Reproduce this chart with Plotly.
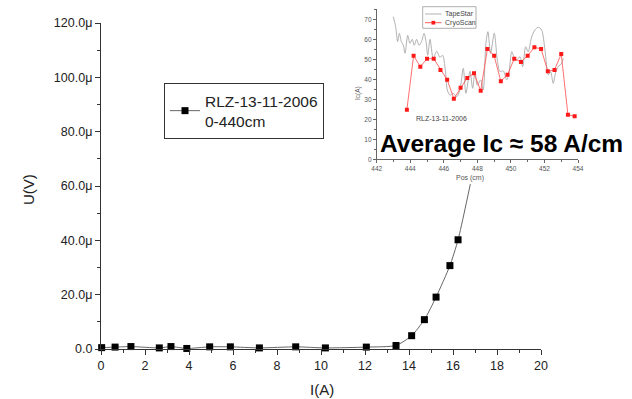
import plotly.graph_objects as go

# ---- Main V-I curve (current in A, voltage in microvolts) ----
current_a = [0.03, 0.64, 1.36, 2.65, 3.18, 3.9, 4.94, 5.88, 7.2, 8.85, 10.2, 12.06,
             13.41, 14.12, 14.7, 15.23, 15.86, 16.23, 17.0, 17.6]
voltage_uv = [0.5, 0.7, 0.9, 0.4, 0.9, 0.2, 0.8, 0.8, 0.4, 0.8, 0.4, 0.7,
              1.3, 4.9, 10.8, 19.1, 30.7, 40.2, 69.0, 95.0]
main_series_name = "RLZ-13-11-2006<br>0-440cm"

u_tick_vals = [0, 20, 40, 60, 80, 100, 120]
u_tick_text = ["0.0", "20.0\u03bc", "40.0\u03bc", "60.0\u03bc", "80.0\u03bc", "100.0\u03bc", "120.0\u03bc"]
i_tick_vals = [0, 2, 4, 6, 8, 10, 12, 14, 16, 18, 20]

# ---- Inset: critical current along the tape ----
tapestar_pos = [442.99, 443.13, 443.25, 443.35, 443.47, 443.59, 443.69, 443.85, 443.98,
                444.12, 444.24, 444.38, 444.52, 444.68, 444.82, 444.94, 445.04, 445.18,
                445.37, 445.58, 445.77, 445.93, 446.09, 446.21, 446.37, 446.56, 446.77,
                446.96, 447.16, 447.32, 447.56, 447.72, 447.86, 448.0, 448.2, 448.35,
                448.51, 448.63, 448.79, 449.01, 449.19, 449.35, 449.54, 449.75, 449.88,
                450.05, 450.18, 450.34, 450.54, 450.70, 450.88, 451.03, 451.24, 451.43,
                451.63, 451.83, 452.03, 452.23, 452.37, 452.52, 452.68, 452.82, 453.03,
                453.12]
tapestar_ic = [71.3, 66.3, 58.8, 63.0, 58.8, 57.0, 53.0, 62.0, 58.0,
               60.0, 57.0, 60.0, 57.0, 59.0, 63.0, 59.0, 52.0, 60.0,
               50.5, 54.0, 51.0, 52.0, 44.7, 34.7, 32.0, 33.0, 31.3,
               34.7, 45.5, 33.0, 44.0, 35.5, 44.0, 37.0, 39.7, 34.7,
               58.0, 63.8, 53.0, 63.0, 49.7, 43.8, 44.3, 39.7, 43.0,
               53.8, 51.3, 49.7, 51.3, 46.3, 56.3, 53.8, 61.3, 64.7,
               66.0, 64.7, 54.7, 42.2, 43.8, 38.0, 43.8, 46.3, 48.0,
               50.5]

cryoscan_pos = [443.8, 444.2, 444.6, 445.0, 445.4, 445.8, 446.2, 446.6, 447.0,
                447.4, 447.8, 448.2, 448.6, 449.0, 449.4, 449.8, 450.2, 450.6,
                451.0, 451.4, 451.8, 452.2, 452.6, 453.0, 453.4, 453.8]
cryoscan_ic = [24.8, 51.8, 46.3, 50.3, 50.3, 44.7, 39.8, 30.3, 35.8,
               40.7, 43.0, 34.3, 55.2, 51.8, 39.0, 42.3, 50.3, 48.7,
               51.8, 56.0, 55.2, 44.0, 44.7, 52.7, 22.3, 21.5]

ic_tick_vals = [0, 10, 20, 30, 40, 50, 60, 70]
pos_tick_vals = [442, 444, 446, 448, 450, 452, 454]

TAPESTAR_COLOR = "#a8a8a8"
CRYO_LINE_COLOR = "#ff4a4a"
CRYO_MARKER_COLOR = "#ff1a1a"

W, H = 632, 399
FONT = "Liberation Sans, Arial, sans-serif"


def px_x(p):
    return p / W


def px_y(p):
    return 1 - p / H


fig = go.Figure()

# main curve
fig.add_trace(go.Scatter(
    x=current_a, y=voltage_uv, name=main_series_name,
    mode="lines+markers",
    line=dict(color="#666666", width=1, shape="spline", smoothing=0.6),
    marker=dict(symbol="square", size=7, color="black"),
    cliponaxis=False,
    xaxis="x", yaxis="y",
))

# white panel behind the inset (sits on top of the main plot)
fig.add_trace(go.Scatter(
    x=[0, 1, 1, 0, 0], y=[0, 0, 1, 1, 0], mode="lines",
    fill="toself", fillcolor="white", line=dict(width=0, color="white"),
    hoverinfo="skip", showlegend=False,
    xaxis="x2", yaxis="y2",
))

# inset traces
fig.add_trace(go.Scatter(
    x=tapestar_pos, y=tapestar_ic, name="TapeStar", mode="lines",
    line=dict(color=TAPESTAR_COLOR, width=0.9, shape="spline", smoothing=0.8),
    showlegend=False, xaxis="x3", yaxis="y3",
))
fig.add_trace(go.Scatter(
    x=cryoscan_pos, y=cryoscan_ic, name="CryoScan", mode="lines+markers",
    line=dict(color=CRYO_LINE_COLOR, width=0.8),
    marker=dict(symbol="square", size=4, color=CRYO_MARKER_COLOR),
    showlegend=False, xaxis="x3", yaxis="y3",
))

main_axis = dict(
    showline=True, linecolor="#333333", linewidth=1.3, showgrid=False, zeroline=False,
    ticks="outside", ticklen=5, tickwidth=1.2, tickcolor="#333333",
    tickfont=dict(family=FONT, size=12.5, color="#222222"),
    automargin=False,
)
inset_axis = dict(
    showline=True, linecolor="#666666", linewidth=0.8, showgrid=False, zeroline=False,
    ticks="outside", ticklen=3, tickwidth=0.7, tickcolor="#666666",
    tickfont=dict(family=FONT, size=6.5, color="#555555"),
    automargin=False,
)

fig.update_layout(
    width=W, height=H,
    margin=dict(l=0, r=0, t=0, b=0),
    paper_bgcolor="white", plot_bgcolor="rgba(0,0,0,0)",
    font=dict(family=FONT, color="#222222"),
    xaxis=dict(main_axis, domain=[px_x(101), px_x(541)], range=[0, 20],
               tickmode="array", tickvals=i_tick_vals,
               minor=dict(dtick=1, ticks="outside", ticklen=3, tickcolor="#333333"),
               anchor="y"),
    yaxis=dict(main_axis, domain=[px_y(349), px_y(23)], range=[0, 120],
               tickmode="array", tickvals=u_tick_vals, ticktext=u_tick_text,
               minor=dict(tickvals=[10, 30, 50, 70, 90, 110], ticks="outside", ticklen=3,
                          tickcolor="#333333"),
               anchor="x"),
    xaxis2=dict(domain=[px_x(362), 1], range=[0, 1], visible=False, fixedrange=True,
                anchor="y2"),
    yaxis2=dict(domain=[px_y(184), 1], range=[0, 1], visible=False, fixedrange=True,
                anchor="x2"),
    xaxis3=dict(inset_axis, domain=[px_x(376.7), px_x(578)], range=[442, 454],
                tickmode="array", tickvals=pos_tick_vals,
                minor=dict(dtick=1, tick0=442, ticks="outside", ticklen=2, tickcolor="#666666"),
                anchor="y3"),
    yaxis3=dict(inset_axis, domain=[px_y(159.3), px_y(9.3)], range=[0, 75],
                tickmode="array", tickvals=ic_tick_vals,
                minor=dict(dtick=5, tick0=0, ticks="outside", ticklen=2, tickcolor="#666666"),
                anchor="x3"),
    legend=dict(
        x=px_x(164), y=px_y(83), xanchor="left", yanchor="top",
        bgcolor="white", bordercolor="#333333", borderwidth=1,
        font=dict(family=FONT, size=15.5, color="#222222"),
    ),
    showlegend=True,
)

# compact key for the inset series
key_left, key_right, key_top, key_bottom = 422.7, 476, 6.7, 28.3
key_rows = [("TapeStar", 14.0, TAPESTAR_COLOR, None),
            ("CryoScan", 22.7, CRYO_LINE_COLOR, CRYO_MARKER_COLOR)]
shapes = [dict(type="rect", xref="paper", yref="paper", layer="above",
               x0=px_x(key_left), x1=px_x(key_right), y0=px_y(key_bottom), y1=px_y(key_top),
               line=dict(color="#9a9a9a", width=0.8), fillcolor="white")]
annotations = []
for label, row_y, line_color, marker_color in key_rows:
    shapes.append(dict(type="line", xref="paper", yref="paper", layer="above",
                       x0=px_x(425), x1=px_x(441.5), y0=px_y(row_y), y1=px_y(row_y),
                       line=dict(color=line_color, width=0.9)))
    if marker_color:
        shapes.append(dict(type="rect", xref="paper", yref="paper", layer="above",
                           x0=px_x(431.5), x1=px_x(435.2), y0=px_y(row_y + 1.85),
                           y1=px_y(row_y - 1.85),
                           line=dict(width=0), fillcolor=marker_color))
    annotations.append(dict(text=label, x=px_x(442.7), y=px_y(row_y), xanchor="left",
                            font=dict(size=7, color="#444444")))

annotations += [
    # main axis titles
    dict(text="I(A)", x=px_x(322), y=px_y(389), font=dict(size=15, color="#222222")),
    dict(text="U(V)", x=px_x(28), y=px_y(190), textangle=-90, font=dict(size=15, color="#222222")),
    # inset axis titles and label
    dict(text="Ic(A)", x=px_x(358), y=px_y(93), textangle=-90, font=dict(size=6.5, color="#555555")),
    dict(text="Pos (cm)", x=px_x(470), y=px_y(178), font=dict(size=7, color="#555555")),
    dict(text="RLZ-13-11-2006", x=px_x(441.5), y=px_y(118), font=dict(size=7, color="#444444")),
    # headline value
    dict(text="<b>Average Ic \u2248 58 A/cm</b>", x=px_x(501), y=px_y(143),
         font=dict(size=24.5, color="black")),
]
for a in annotations:
    a.update(xref="paper", yref="paper", showarrow=False, yanchor="middle")
    a.setdefault("xanchor", "center")
    a["font"]["family"] = FONT
fig.update_layout(annotations=annotations, shapes=shapes)

fig.write_html("out.html")
